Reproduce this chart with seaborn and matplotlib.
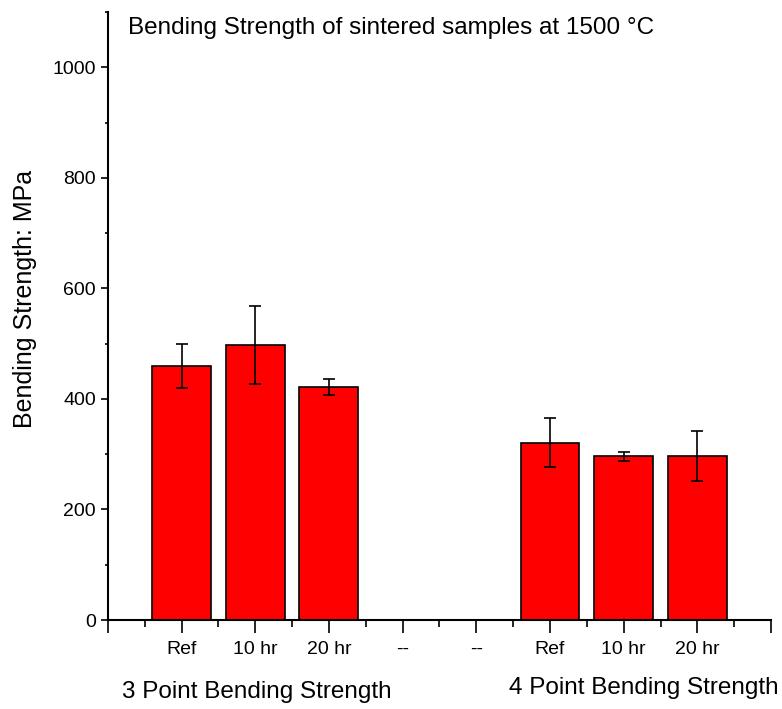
import numpy as np
import pandas as pd
import seaborn as sns
import matplotlib.pyplot as plt
from matplotlib.ticker import MultipleLocator

# 막대 데이터 (-- 자리는 빈 칸)
tick_labels = ['Ref', '10 hr', '20 hr', '--', '--', 'Ref', '10 hr', '20 hr']
strength = [460, 498, 422, np.nan, np.nan, 321, 296, 297]
strength_err = [40, 71, 14, np.nan, np.nan, 45, 8.5, 45]
group_labels = ['3 Point Bending Strength', '4 Point Bending Strength']

slots = [f's{i}' for i in range(len(tick_labels))]
df = pd.DataFrame({'slot': slots, 'strength': strength, 'err': strength_err})

sns.set_style('ticks', {'axes.edgecolor': 'black', 'text.color': 'black',
                        'xtick.color': 'black', 'ytick.color': 'black',
                        'axes.labelcolor': 'black'})
plt.rcParams['font.family'] = ['Liberation Sans', 'DejaVu Sans']

fig = plt.figure(figsize=(7.82, 7.09), dpi=100)
ax = fig.add_axes([0.138, 0.1255, 0.848, 0.8575])

sns.barplot(data=df, x='slot', y='strength', order=slots, color='red',
            saturation=1, width=0.8, edgecolor='black', linewidth=1.2,
            errorbar=None, ax=ax)

pos = [i for i, v in enumerate(strength) if not np.isnan(v)]
ax.errorbar(pos, df['strength'].dropna(), yerr=df['err'].dropna(),
            fmt='none', ecolor='black', elinewidth=1.2, capsize=4, capthick=1.2)

ax.set_xlim(-1, len(slots))
ax.set_ylim(0, 1100)
ax.set_xticks(range(-1, len(slots) + 1))
ax.set_xticklabels([''] + tick_labels + [''], fontsize=14)
ax.xaxis.set_minor_locator(MultipleLocator(0.5))
ax.set_yticks(range(0, 1001, 200))
ax.yaxis.set_minor_locator(MultipleLocator(100))
ax.tick_params(axis='x', which='major', direction='out', length=9, width=1.2, pad=6)
ax.tick_params(axis='x', which='minor', direction='out', length=5, width=1.2)
ax.tick_params(axis='y', which='major', direction='out', length=5, width=1.2, labelsize=14)
ax.tick_params(axis='y', which='minor', direction='out', length=2.5, width=1.2)

sns.despine(ax=ax)
for s in ['left', 'bottom']:
    ax.spines[s].set_linewidth(1.5)

ax.set_xlabel('')
ax.set_ylabel('Bending Strength: MPa', fontsize=18)
ax.yaxis.set_label_coords(-0.107, 0.528)

ax.text(0.03, 0.992, 'Bending Strength of sintered samples at 1500 \u00b0C',
        transform=ax.transAxes, fontsize=17.5, va='top', ha='left')

fig.text(0.328, 0.008, group_labels[0], fontsize=17.5, ha='center', va='bottom')
fig.text(0.823, 0.014, group_labels[1], fontsize=17.5, ha='center', va='bottom')

fig.savefig('out.png', dpi=100)
